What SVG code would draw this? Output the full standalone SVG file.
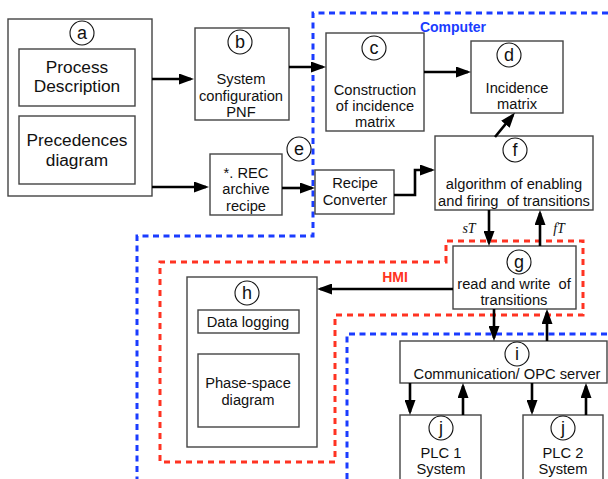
<svg xmlns="http://www.w3.org/2000/svg" width="608" height="479" viewBox="0 0 608 479">
<style>
text{font-family:"Liberation Sans",Arial,sans-serif;fill:#111;text-anchor:middle}
.box{fill:#fff;stroke:#444;stroke-width:1.4}
.c{fill:#fff;stroke:#111;stroke-width:1.1}
.lt{font-size:18px}
.t{font-size:14.7px}
.big{font-size:17.3px}
.conn{fill:none;stroke:#000;stroke-width:2.6;marker-end:url(#ah)}
.blue{fill:none;stroke:#1a3cff;stroke-width:3;stroke-dasharray:6 4.5}
.red{fill:none;stroke:#ff3322;stroke-width:3;stroke-dasharray:6 5}
.it{font-family:"Liberation Serif","Times New Roman",serif;font-style:italic;font-size:14px}
</style>
<defs>
<marker id="ah" viewBox="0 0 15 11" markerWidth="15" markerHeight="11" refX="12" refY="5.5" orient="auto" markerUnits="userSpaceOnUse">
<path d="M0,0 L15,5.5 L0,11 z" fill="#000"/>
</marker>
</defs>
<rect width="608" height="479" fill="#fff"/>
<g id="regions">
<path class="blue" d="M608,13 L313,13 L313,236 L137,236 L137,479"/>
<path class="red" d="M446,262 L446,241 L583,241 L583,315 L335,315 L335,462 L160,462 L160,262 Z"/>
<path class="blue" d="M347,479 L347,334 L608,334"/>
<text x="453" y="32" style="font-size:14px;font-weight:bold;fill:#1a3cff">Computer</text>
<text x="395" y="282" style="font-size:14px;font-weight:bold;fill:#ff3322">HMI</text>
</g>
<g id="a">
<rect class="box" x="8" y="19" width="144" height="177"/>
<circle class="c" cx="82" cy="33" r="12"/><text class="lt" x="82" y="39">a</text>
<rect class="box" x="19" y="49" width="116" height="57"/>
<text class="big" x="77" y="73">Process</text><text class="big" x="77" y="92">Description</text>
<rect class="box" x="19" y="116" width="116" height="68"/>
<text class="big" x="77" y="146">Precedences</text><text class="big" x="77" y="166">diagram</text>
</g>
<g id="b">
<rect class="box" x="195" y="28" width="94" height="92"/>
<circle class="c" cx="240" cy="42" r="12"/><text class="lt" x="240" y="48">b</text>
<text class="t" x="241" y="84">System</text><text class="t" x="241" y="101">configuration</text><text class="t" x="241" y="117">PNF</text>
</g>
<g id="e">
<rect class="box" x="210" y="154" width="72" height="61"/>
<circle class="c" cx="299" cy="149" r="12"/><text class="lt" x="299" y="155">e</text>
<text class="t" x="246" y="178">*. REC</text><text class="t" x="246" y="194">archive</text><text class="t" x="246" y="211">recipe</text>
</g>
<g id="rc">
<rect class="box" x="315" y="170" width="79" height="44"/>
<text class="t" x="355" y="188">Recipe</text><text class="t" x="355" y="205">Converter</text>
</g>
<g id="c">
<rect class="box" x="326" y="33" width="98" height="98"/>
<circle class="c" cx="374" cy="48" r="12"/><text class="lt" x="374" y="54">c</text>
<text class="t" x="375" y="95">Construction</text><text class="t" x="375" y="111">of incidence</text><text class="t" x="375" y="127">matrix</text>
</g>
<g id="d">
<rect class="box" x="471" y="41" width="92" height="72"/>
<circle class="c" cx="509" cy="55" r="12"/><text class="lt" x="509" y="61">d</text>
<text class="t" x="517" y="93">Incidence</text><text class="t" x="517" y="109">matrix</text>
</g>
<g id="f">
<rect class="box" x="435" y="136" width="158" height="74"/>
<circle class="c" cx="515" cy="150" r="12"/><text class="lt" x="515" y="156">f</text>
<text class="t" x="514" y="189">algorithm of enabling</text><text class="t" x="514" y="206" xml:space="preserve">and firing  of transitions</text>
</g>
<g id="g">
<rect class="box" x="453" y="246" width="123" height="63"/>
<circle class="c" cx="519" cy="262" r="12"/><text class="lt" x="519" y="268">g</text>
<text class="t" x="514" y="289" xml:space="preserve">read and write  of</text><text class="t" x="514" y="305">transitions</text>
</g>
<g id="h">
<rect class="box" x="187" y="277" width="130" height="170"/>
<circle class="c" cx="247" cy="293" r="12"/><text class="lt" x="247" y="299">h</text>
<rect class="box" x="198" y="310" width="101" height="23"/>
<text class="t" x="248" y="327">Data logging</text>
<rect class="box" x="198" y="354" width="101" height="73"/>
<text class="t" x="248" y="388">Phase-space</text><text class="t" x="248" y="405">diagram</text>
</g>
<g id="i">
<rect class="box" x="400" y="341" width="207" height="42"/>
<circle class="c" cx="517" cy="354" r="12"/><text class="lt" x="517" y="360">i</text>
<text class="t" x="507" y="379">Communication/ OPC server</text>
</g>
<g id="j1">
<rect class="box" x="400" y="415" width="81" height="70"/>
<circle class="c" cx="441" cy="428" r="12"/><text class="lt" x="441" y="434">j</text>
<text class="t" x="441" y="458">PLC 1</text><text class="t" x="441" y="474">System</text>
</g>
<g id="j2">
<rect class="box" x="523" y="415" width="80" height="70"/>
<circle class="c" cx="563" cy="428" r="12"/><text class="lt" x="563" y="434">j</text>
<text class="t" x="563" y="458">PLC 2</text><text class="t" x="563" y="474">System</text>
</g>
<g id="connectors">
<path class="conn" d="M152,79 L191,79"/>
<path class="conn" d="M289,67 L323,67"/>
<path class="conn" d="M152,187 L206,187"/>
<path class="conn" d="M282,188 L312,188"/>
<path class="conn" d="M394,195 L415,195 L415,170 L432,170"/>
<path class="conn" d="M424,72 L468,72"/>
<path class="conn" d="M495,137 L513,115"/>
<path class="conn" d="M489,210 L489,243"/>
<path class="conn" d="M540,246 L540,213"/>
<path class="conn" d="M453,289 L320,289"/>
<path class="conn" d="M494,309 L494,338"/>
<path class="conn" d="M547,341 L547,312"/>
<path class="conn" d="M410,383 L410,412"/>
<path class="conn" d="M463,415 L463,386"/>
<path class="conn" d="M532,383 L532,412"/>
<path class="conn" d="M586,415 L586,386"/>
<text class="it" x="469" y="233">sT</text>
<text class="it" x="559" y="233">fT</text>
</g>
</svg>
